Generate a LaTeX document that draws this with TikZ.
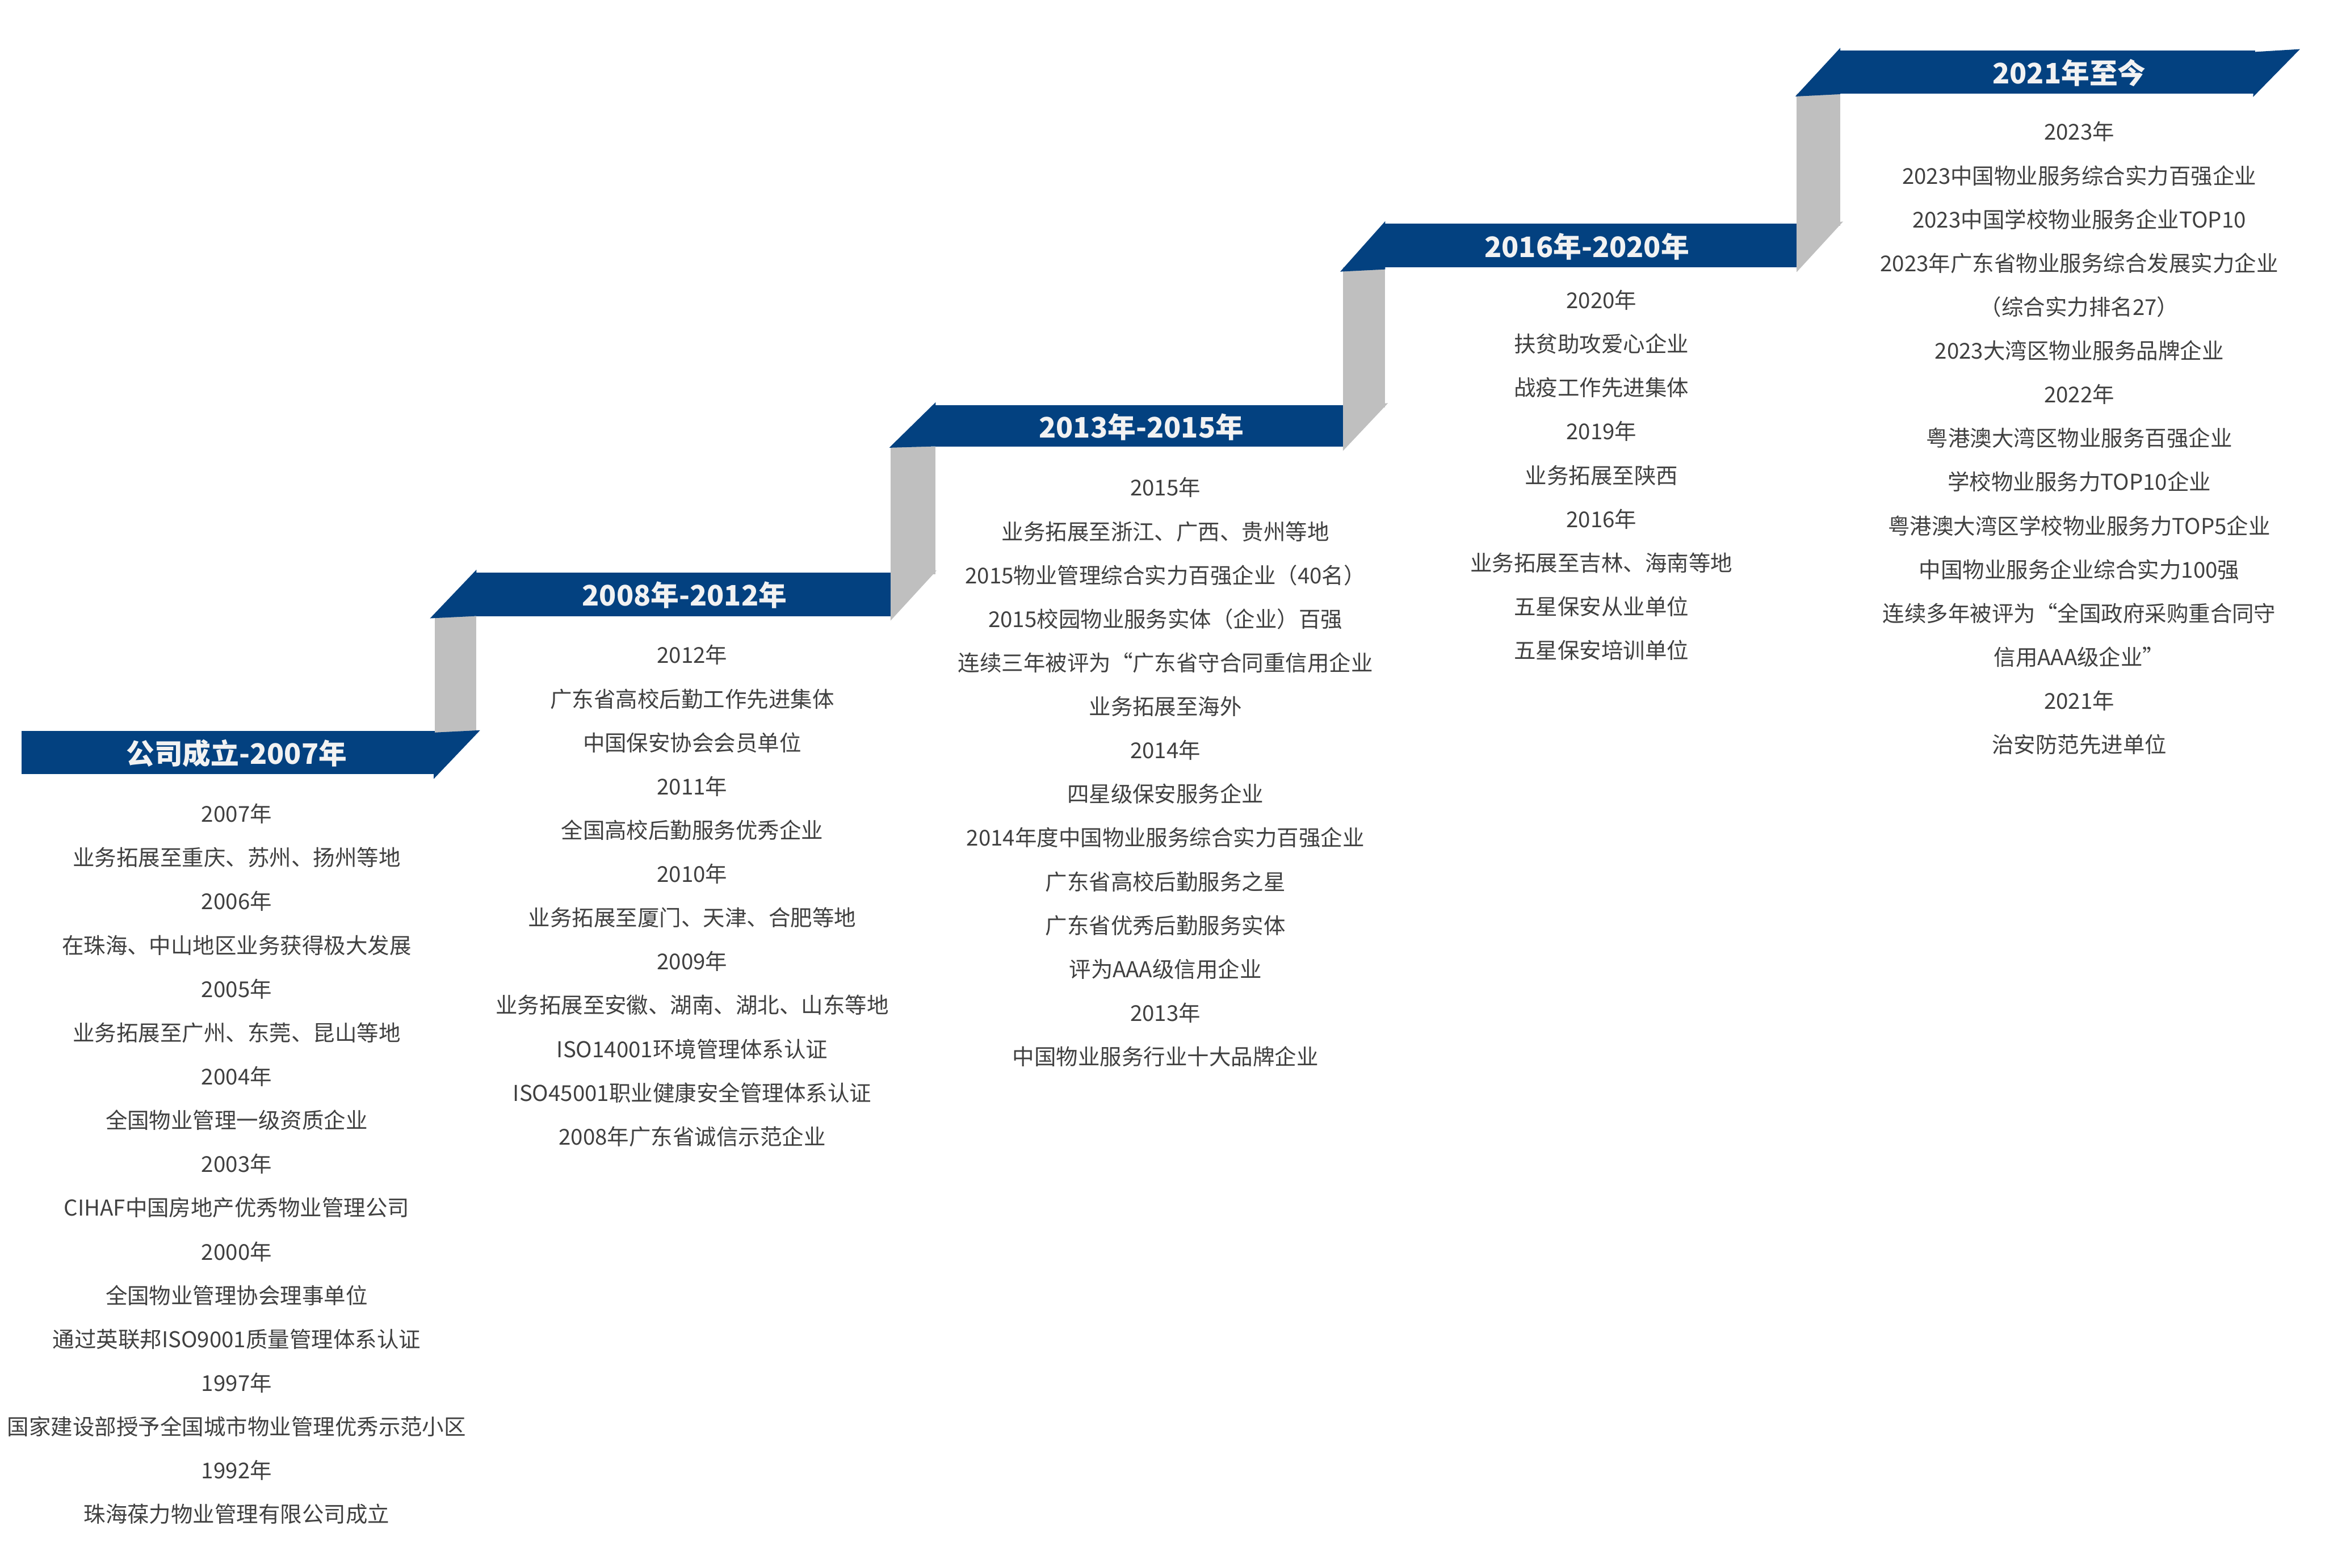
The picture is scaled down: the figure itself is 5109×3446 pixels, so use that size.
\documentclass[tikz,border=0pt]{standalone}
\usepackage{fontspec}
\setmainfont{Noto Sans CJK SC}
\definecolor{bandblue}{RGB}{3,65,128}
\definecolor{foldgrey}{RGB}{191,191,191}
\definecolor{bodytext}{RGB}{64,64,64}
\definecolor{titletext}{RGB}{242,242,242}
\tikzset{
  band/.style={fill=bandblue,draw=none},
  fold/.style={fill=foldgrey,draw=none},
  bandtitle/.style={anchor=base,inner sep=0pt,text=titletext,font=\fontsize{62}{70}\selectfont\bfseries},
  entry/.style={anchor=base,inner sep=0pt,text=bodytext,font=\fontsize{48}{56}\selectfont}
}
\begin{document}
\begin{tikzpicture}[x=1pt,y=-1pt]
\useasboundingbox (0,0) rectangle (5109,3446);
% grey connecting columns
\path[fold] (955,1610) rectangle (1047,1354);
\path[fold] (1957,1262) rectangle (2056,981);
\path[fold] (2951,895) rectangle (3044,588);
\path[fold] (3948,496) rectangle (4044,206);
% grey right folds
\path[fold] (1957,1261) -- (2058,1254) -- (1957,1364) -- cycle;
\path[fold] (2951,894) -- (3050,886) -- (2951,991) -- cycle;
\path[fold] (3948,495) -- (4050,487) -- (3948,598) -- cycle;
% banners
\path[band] (47,1607) rectangle (955,1701);
\path[band] (955,1610) -- (1055,1605) -- (953,1712) -- cycle;
\path[band] (1047,1258) rectangle (1957,1354);
\path[band] (1047,1252) -- (945,1359) -- (1047,1354) -- cycle;
\path[band] (2056,891) rectangle (2951,981);
\path[band] (2056,884) -- (1954,984) -- (2056,981) -- cycle;
\path[band] (3044,492) rectangle (3948,588);
\path[band] (3044,486) -- (2945,597) -- (3044,592) -- cycle;
\path[band] (4044,111) rectangle (4955,206);
\path[band] (4044,105) -- (3945,212) -- (4044,207) -- cycle;
\path[band] (4955,114) -- (5054,108) -- (4951,213) -- cycle;
% titles
\node[bandtitle] (t1) at (520,1680) {公司成立-2007年};
\node[bandtitle] (t2) at (1504,1332) {2008年-2012年};
\node[bandtitle] (t3) at (2508,962) {2013年-2015年};
\node[bandtitle] (t4) at (3487,566) {2016年-2020年};
\node[bandtitle] (t5) at (4547,184) {2021年至今};
% entries
\foreach \t [count=\i from 0] in {2007年,业务拓展至重庆、苏州、扬州等地,2006年,在珠海、中山地区业务获得极大发展,2005年,业务拓展至广州、东莞、昆山等地,2004年,全国物业管理一级资质企业,2003年,CIHAF中国房地产优秀物业管理公司,2000年,全国物业管理协会理事单位,通过英联邦ISO9001质量管理体系认证,1997年,国家建设部授予全国城市物业管理优秀示范小区,1992年,珠海葆力物业管理有限公司成立}
  \node[entry] (a\i) at (520,{1790+17+96.2*\i}) {\t};
\foreach \t [count=\i from 0] in {2012年,广东省高校后勤工作先进集体,中国保安协会会员单位,2011年,全国高校后勤服务优秀企业,2010年,业务拓展至厦门、天津、合肥等地,2009年,业务拓展至安徽、湖南、湖北、山东等地,ISO14001环境管理体系认证,ISO45001职业健康安全管理体系认证,2008年广东省诚信示范企业}
  \node[entry] (b\i) at (1521,{1441+17+96.2*\i}) {\t};
\foreach \t [count=\i from 0] in {2015年,业务拓展至浙江、广西、贵州等地,2015物业管理综合实力百强企业（40名）,2015校园物业服务实体（企业）百强,连续三年被评为“广东省守合同重信用企业,业务拓展至海外,2014年,四星级保安服务企业,2014年度中国物业服务综合实力百强企业,广东省高校后勤服务之星,广东省优秀后勤服务实体,评为AAA级信用企业,2013年,中国物业服务行业十大品牌企业}
  \node[entry] (c\i) at (2561,{1073+17+96.2*\i}) {\t};
\foreach \t [count=\i from 0] in {2020年,扶贫助攻爱心企业,战疫工作先进集体,2019年,业务拓展至陕西,2016年,业务拓展至吉林、海南等地,五星保安从业单位,五星保安培训单位}
  \node[entry] (d\i) at (3519,{661+17+96.2*\i}) {\t};
\foreach \t [count=\i from 0] in {2023年,2023中国物业服务综合实力百强企业,2023中国学校物业服务企业TOP10,2023年广东省物业服务综合发展实力企业,（综合实力排名27）,2023大湾区物业服务品牌企业,2022年,粤港澳大湾区物业服务百强企业,学校物业服务力TOP10企业,粤港澳大湾区学校物业服务力TOP5企业,中国物业服务企业综合实力100强,连续多年被评为“全国政府采购重合同守,信用AAA级企业”,2021年,治安防范先进单位}
  \node[entry] (e\i) at (4569,{291+17+96.2*\i}) {\t};
\end{tikzpicture}
\end{document}
